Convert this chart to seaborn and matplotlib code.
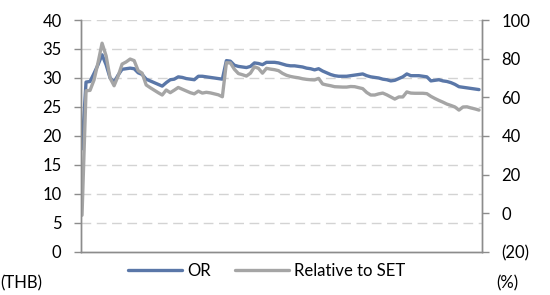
import numpy as np
import pandas as pd
import seaborn as sns
from matplotlib import pyplot as plt
from matplotlib.lines import Line2D

# share price (THB, left axis)
or_price = [17.8, 29.3, 29.4, 30.8, 32.3, 34.0, 32.3, 30.0, 29.3, 30.5,
            31.5, 31.6, 31.7, 31.6, 30.9, 30.6, 29.8, 29.5, 29.2, 28.9,
            28.6, 29.2, 29.7, 29.8, 30.2, 30.1, 29.9, 29.8, 29.7, 30.3,
            30.3, 30.2, 30.1, 30.0, 29.9, 29.8, 33.0, 32.9, 32.2, 32.0,
            31.9, 31.8, 32.0, 32.6, 32.5, 32.3, 32.7, 32.7, 32.7, 32.6,
            32.4, 32.2, 32.1, 32.1, 32.0, 31.9, 31.7, 31.6, 31.4, 31.6,
            31.2, 30.9, 30.6, 30.4, 30.3, 30.3, 30.3, 30.4, 30.5, 30.6,
            30.7, 30.4, 30.2, 30.1, 30.0, 29.8, 29.7, 29.5, 29.6, 29.9,
            30.2, 30.7, 30.4, 30.4, 30.4, 30.3, 30.2, 29.5, 29.6, 29.7,
            29.5, 29.4, 29.2, 28.9, 28.5, 28.4, 28.3, 28.2, 28.1, 28.0]

# relative performance vs SET (%, right axis)
rel_set = [-1.0, 63.4, 63.6, 69.0, 78.0, 88.0, 81.5, 70.0, 66.0, 71.0,
           77.2, 78.3, 79.8, 79.0, 73.8, 72.5, 66.4, 65.0, 63.7, 62.4,
           61.2, 63.8, 62.4, 63.7, 65.1, 64.2, 63.3, 62.4, 61.8, 63.2,
           62.2, 62.6, 62.3, 61.8, 61.3, 60.3, 77.9, 77.8, 74.5, 72.3,
           71.7, 71.0, 72.5, 75.8, 75.0, 72.5, 75.0, 74.6, 74.3, 73.8,
           72.4, 71.4, 70.8, 70.4, 70.1, 69.6, 69.3, 69.1, 69.0, 69.8,
           66.9, 66.4, 66.0, 65.5, 65.4, 65.3, 65.3, 65.6, 65.5, 65.0,
           64.5, 62.5, 61.2, 61.2, 61.8, 62.2, 61.3, 60.2, 59.1, 60.2,
           60.2, 62.8, 62.2, 62.1, 62.1, 62.1, 61.9, 60.5, 59.4, 58.4,
           57.5, 56.5, 55.8, 55.0, 53.4, 55.0, 55.1, 54.5, 54.0, 53.4]

left_ticks = [0, 5, 10, 15, 20, 25, 30, 35, 40]
right_ticks = [-20, 0, 20, 40, 60, 80, 100]
right_labels = ['(20)', '0', '20', '40', '60', '80', '100']

BLUE = '#5a77a8'
GRAY = '#a5a5a5'
AXIS = '#8c8c8c'

sns.set_theme(style='white')
plt.rcParams['font.family'] = ['Lato', 'DejaVu Sans']
plt.rcParams['text.color'] = 'black'
plt.rcParams['ytick.labelcolor'] = 'black'

df = pd.DataFrame({'t': np.arange(len(or_price)), 'OR': or_price, 'Relative to SET': rel_set})

fig = plt.figure(figsize=(5.5, 2.95), dpi=100)
ax = fig.add_axes([0.1473, 0.1458, 0.7291, 0.7864])
ax2 = ax.twinx()

sns.lineplot(data=df, x='t', y='OR', ax=ax, color=BLUE, linewidth=2.4)
sns.lineplot(data=df, x='t', y='Relative to SET', ax=ax2, color=GRAY, linewidth=2.4)

ax.set_xlim(-0.25, len(or_price) - 0.25)
ax.set_ylim(0, 40)
ax2.set_ylim(-20, 100)
ax.set_yticks(left_ticks)
ax2.set_yticks(right_ticks)
ax2.set_yticklabels(right_labels)
ax.set_xticks([])
ax.set_xlabel('')
ax.set_ylabel('')
ax2.set_ylabel('')

for y in left_ticks[1:]:
    ax.axhline(y, color='#d3d3d3', linewidth=1, dashes=(7, 4), zorder=0)

for a in (ax, ax2):
    for s in a.spines.values():
        s.set_color(AXIS)
        s.set_linewidth(1)
    a.spines['top'].set_visible(False)
ax.tick_params(axis='y', left=True, length=5, width=1, color=AXIS, labelcolor='black',
               labelsize=12, pad=9)
ax2.tick_params(axis='y', right=True, length=5, width=1, color=AXIS, labelcolor='black',
                labelsize=12, pad=9)

handles = [Line2D([], [], color=BLUE, linewidth=2.4),
           Line2D([], [], color=GRAY, linewidth=2.4)]
fig.legend(handles, ['OR', 'Relative to SET'], loc='center', bbox_to_anchor=(0.485, 0.081),
           ncol=2, frameon=False, fontsize=12, handlelength=3.2, handletextpad=0.3,
           columnspacing=1.5, labelcolor='black')

fig.text(0.0, 0.04, '(THB)', fontsize=12, ha='left', va='center', color='black')
fig.text(0.902, 0.04, '(%)', fontsize=12, ha='left', va='center', color='black')

fig.savefig('out.png', dpi=100)
